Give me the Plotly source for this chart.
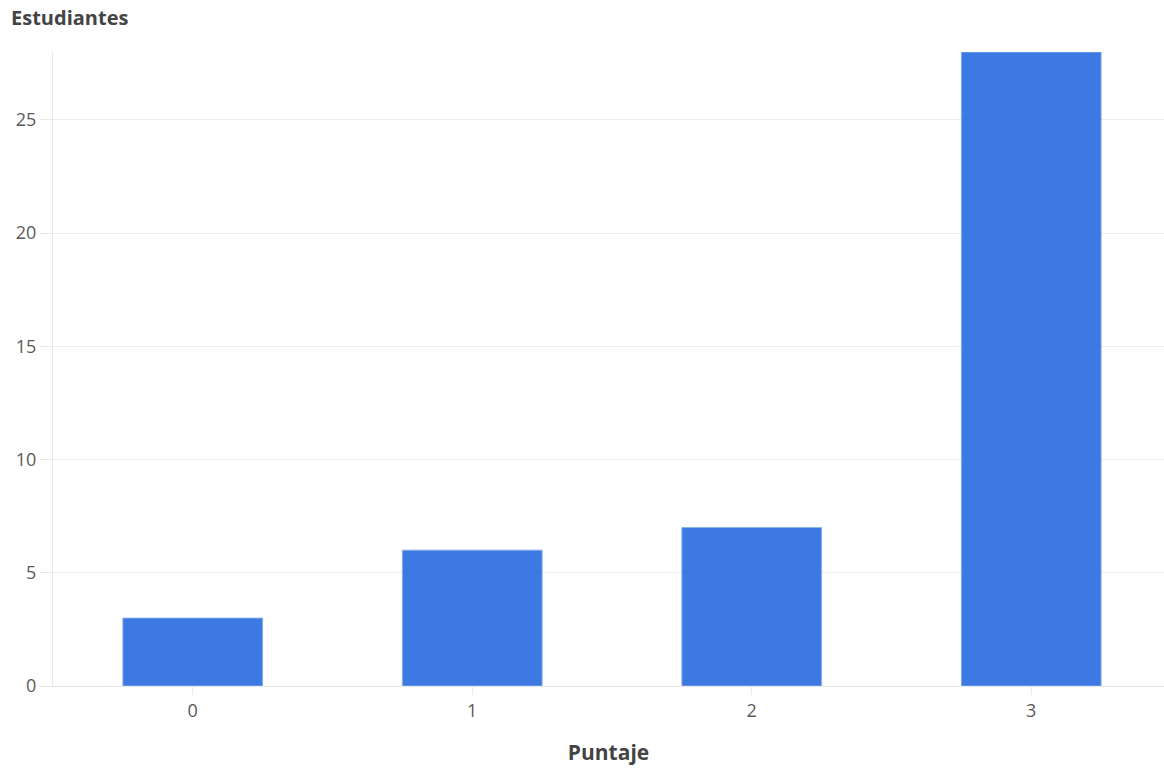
import plotly.graph_objects as go

puntaje = [0, 1, 2, 3]
estudiantes = [3, 6, 7, 28]
y_ticks = [0, 5, 10, 15, 20, 25]

FONT = "Open Sans"
W, H = 1164, 768
fig = go.Figure(
    go.Bar(
        x=puntaje,
        y=estudiantes,
        width=0.5,
        marker=dict(color="rgba(40,106,224,0.9)", line=dict(color="rgba(140,175,240,0.9)", width=1)),
    )
)
fig.update_layout(
    width=W,
    height=H,
    margin=dict(l=53, r=0, t=52, b=82),
    paper_bgcolor="white",
    plot_bgcolor="white",
    showlegend=False,
    font=dict(family=FONT, size=18, color="#5a5a5a"),
    title=dict(
        text="<b>Estudiantes</b>",
        font=dict(family=FONT, size=20, color="#444444"),
        xref="container", yref="container",
        x=11 / W, xanchor="left",
        y=1 - 18 / H, yanchor="middle",
    ),
)
fig.update_xaxes(
    range=[-0.5, 3.475],
    tickvals=puntaje,
    ticktext=[str(p) for p in puntaje],
    ticks="outside", ticklen=8, tickcolor="#e8e8e8",
    showgrid=False,
    showline=True, linecolor="#e8e8e8", linewidth=1,
    zeroline=False,
    title=dict(text="<b>Puntaje</b>", font=dict(family=FONT, size=21, color="#444444"), standoff=24),
)
fig.update_yaxes(
    range=[0, 28],
    tickvals=y_ticks,
    ticks="outside", ticklen=12, tickcolor="#e8e8e8",
    showgrid=True, gridcolor="#ececec", gridwidth=1,
    showline=True, linecolor="#e8e8e8", linewidth=1,
    zeroline=False,
)
fig.write_html(
    "out.html",
    config={"displayModeBar": False},
    post_script="document.body.style.margin='0';document.body.style.overflow='hidden';",
)
